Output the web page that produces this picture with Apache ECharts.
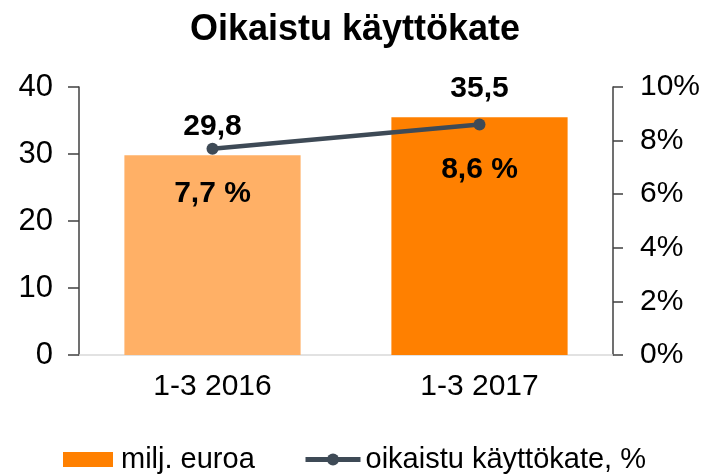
<!DOCTYPE html>
<html>
<head>
<meta charset="utf-8">
<script src="https://cdn.jsdelivr.net/npm/echarts@6/dist/echarts.min.js"></script>
<style>html,body{margin:0;padding:0;background:#fff}#c{width:710px;height:476px}</style>
</head>
<body>
<div id="c"></div>
<script>
const categories = ['1-3 2016', '1-3 2017'];
const ebitdaMeur = [29.8, 35.5];
const ebitdaPct = [7.7, 8.6];
const leftTicks = [0, 10, 20, 30, 40];
const rightTicks = [0, 2, 4, 6, 8, 10];
const barColors = ['#FFB066', '#FF8000'];
const seriesNames = ['milj. euroa', 'oikaistu käyttökate, %'];

const fmt = v => String(v).replace('.', ',');
const FONT = '"Liberation Sans", Arial, sans-serif';
const LINE_COLOR = '#3E4A56';

const chart = echarts.init(document.getElementById('c'), null, {renderer: 'canvas'});
chart.setOption({
  animation: false,
  backgroundColor: '#ffffff',
  textStyle: {fontFamily: FONT, color: '#000'},
  title: {
    text: 'Oikaistu käyttökate',
    left: 'center', top: 7,
    textStyle: {fontFamily: FONT, fontSize: 36, fontWeight: 'bold', color: '#000'}
  },
  legend: [
    {
      top: 440, left: 58,
      itemWidth: 50, itemHeight: 15, itemGap: 10,
      textStyle: {fontFamily: FONT, fontSize: 29, color: '#000', padding: [0, 0, 0, 3]},
      data: [{name: seriesNames[0], icon: 'rect'}]
    },
    {
      top: 440, left: 298,
      itemWidth: 55, itemHeight: 15, itemGap: 10,
      textStyle: {fontFamily: FONT, fontSize: 29, color: '#000'},
      data: [{name: seriesNames[1], lineStyle: {width: 5, color: LINE_COLOR}, itemStyle: {color: LINE_COLOR}}]
    }
  ],
  grid: {left: 79, right: 97, top: 87, bottom: 121, containLabel: false},
  xAxis: {
    type: 'category', data: categories,
    axisLine: {lineStyle: {color: '#d9d9d9', width: 1.5}},
    axisTick: {show: false},
    axisLabel: {fontFamily: FONT, fontSize: 30, color: '#000', margin: 17}
  },
  yAxis: [
    {
      type: 'value', min: leftTicks[0], max: leftTicks[leftTicks.length - 1], interval: 10,
      axisLine: {show: true, lineStyle: {color: '#404040', width: 1.5}},
      axisTick: {show: true, length: 11, lineStyle: {color: '#404040', width: 1.5}},
      splitLine: {show: false},
      axisLabel: {fontFamily: FONT, fontSize: 31, color: '#000', margin: 26}
    },
    {
      type: 'value', min: rightTicks[0], max: rightTicks[rightTicks.length - 1], interval: 2,
      position: 'right',
      axisLine: {show: true, lineStyle: {color: '#404040', width: 1.5}},
      axisTick: {show: true, length: 10, lineStyle: {color: '#404040', width: 1.5}},
      splitLine: {show: false},
      axisLabel: {fontFamily: FONT, fontSize: 30, color: '#000', margin: 27, formatter: v => v + '%'}
    }
  ],
  series: [
    {
      name: seriesNames[0], type: 'bar', yAxisIndex: 0,
      barCategoryGap: '34%',
      itemStyle: {color: barColors[1]},
      data: ebitdaMeur.map((v, i) => ({value: v, itemStyle: {color: barColors[i]}})),
      label: {
        show: true, position: 'top', distance: 14,
        fontFamily: FONT, fontSize: 30, fontWeight: 'bold', color: '#000', lineHeight: 29,
        formatter: p => fmt(p.value)
      },
      z: 1
    },
    {
      name: seriesNames[1], type: 'line', yAxisIndex: 1,
      data: ebitdaPct,
      symbol: 'circle', symbolSize: 12,
      lineStyle: {color: LINE_COLOR, width: 4.5},
      itemStyle: {color: LINE_COLOR},
      label: {
        show: true, position: 'bottom', distance: 25,
        fontFamily: FONT, fontSize: 30, fontWeight: 'bold', color: '#000', lineHeight: 29,
        formatter: p => fmt(p.value) + ' %'
      },
      z: 3
    }
  ]
});
</script>
</body>
</html>
